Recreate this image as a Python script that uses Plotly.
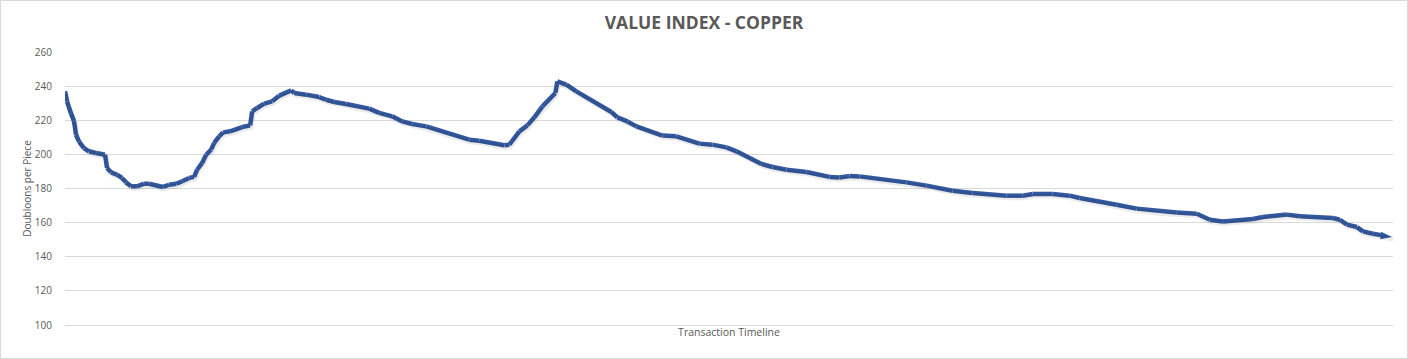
import plotly.graph_objects as go

# Transaction index (position along the timeline) and value in doubloons per piece
transaction = [0, 2, 6, 9, 11, 14, 19, 24, 31, 40, 42, 46, 52, 57, 61, 66, 72, 79, 84, 91,
               98, 104, 111, 117, 124, 129, 132, 137, 141, 146, 149, 154, 158, 165, 171, 177,
               185, 187, 192, 199, 207, 214, 226, 229, 241, 254, 261, 269, 281, 291, 304, 314,
               327, 337, 347, 361, 371, 381, 391, 404, 414, 427, 439, 444, 454, 462, 469, 477,
               484, 490, 492, 501, 511, 521, 527, 537, 546, 552, 562, 571, 581, 591, 597, 611,
               621, 634, 647, 661, 671, 684, 696, 707, 721, 741, 754, 764, 774, 784, 794, 807,
               821, 841, 861, 874, 887, 907, 924, 941, 957, 967, 987, 1004, 1014, 1027, 1041,
               1051, 1071, 1094, 1111, 1131, 1136, 1144, 1157, 1171, 1187, 1197, 1211, 1221,
               1234, 1251, 1267, 1274, 1281, 1291, 1297, 1307, 1317, 1326]
value = [237.0, 231.0, 224.0, 219.5, 211.5, 207.5, 203.7, 201.8, 200.8, 199.8, 192.0, 189.5,
         188.1, 186.2, 183.6, 181.3, 181.3, 182.8, 182.8, 181.7, 180.9, 182.2, 182.8, 184.2,
         186.2, 186.8, 191.0, 195.0, 199.8, 202.8, 206.7, 210.6, 212.9, 213.5, 214.9, 216.0,
         217.0, 225.2, 227.2, 229.7, 231.1, 234.4, 237.5, 236.0, 235.0, 233.6, 232.0, 230.7,
         229.5, 228.1, 226.8, 224.3, 222.3, 219.3, 217.8, 216.4, 214.5, 212.5, 211.1, 208.6,
         208.0, 206.7, 205.3, 205.7, 213.5, 217.0, 221.7, 228.1, 232.0, 236.0, 242.8, 240.9,
         236.9, 233.4, 232.0, 228.1, 224.8, 221.7, 219.3, 216.4, 214.5, 212.5, 211.0, 210.6,
         208.6, 206.3, 205.7, 204.1, 201.8, 198.2, 194.4, 192.6, 191.0, 189.7, 188.1, 186.8,
         186.5, 187.3, 187.1, 186.2, 185.6, 183.6, 181.7, 180.3, 178.7, 177.4, 176.4, 175.8,
         175.8, 176.8, 176.8, 175.8, 174.4, 173.0, 172.1, 170.5, 168.2, 166.6, 166.0, 165.2,
         163.7, 161.7, 160.7, 161.3, 162.1, 163.3, 164.1, 164.7, 163.7, 163.1, 162.7, 161.7,
         158.8, 157.4, 154.9, 153.5, 152.3, 151.6]
y_ticks = [100, 120, 140, 160, 180, 200, 220, 240, 260]

TITLE = "VALUE INDEX - COPPER"
Y_TITLE = "Doubloons per Piece"
X_TITLE = "Transaction Timeline"

LINE = "#3459A0"
TEXT = "#595959"
GRID = "#D9D9D9"
FONT = "Open Sans"

n = len(value)
symbols = ["circle"] * (n - 1) + ["arrow"]
sizes = [0] * (n - 1) + [12]

fig = go.Figure()

# soft shadow under the line (drawn on offset overlay axes)
fig.add_trace(go.Scatter(
    x=transaction, y=value, mode="lines", xaxis="x2", yaxis="y2",
    line=dict(color="rgba(0,0,0,0.08)", width=5), hoverinfo="skip", showlegend=False,
))

fig.add_trace(go.Scatter(
    x=transaction, y=value, mode="lines+markers",
    line=dict(color=LINE, width=4.5),
    marker=dict(symbol=symbols, size=sizes, color=LINE, opacity=1, angleref="previous",
                line=dict(width=0)),
    cliponaxis=False, showlegend=False,
))

xr = [0, 1327]
yr = [100, 260]
fig.update_layout(
    width=1408, height=359,
    margin=dict(l=65, r=15, t=52, b=34, autoexpand=False),
    paper_bgcolor="white", plot_bgcolor="white",
    font=dict(family=FONT, color=TEXT, size=10),
    title=dict(text=TITLE, x=0.5, xanchor="center", y=1 - 23 / 359, yanchor="middle",
               font=dict(family=FONT, size=17.5, color=TEXT, weight="bold")),
    xaxis=dict(range=xr, showgrid=False, zeroline=False, showticklabels=False,
               showline=True, linecolor=GRID, linewidth=1, ticks="", automargin=False,
               title=dict(text=X_TITLE, standoff=3, font=dict(size=10.5, color=TEXT))),
    yaxis=dict(range=yr, tickvals=y_ticks, showgrid=True, gridcolor=GRID, gridwidth=1,
               zeroline=False, showline=False, ticks="", ticklabelstandoff=12,
               automargin=False,
               tickfont=dict(size=10, color=TEXT),
               title=dict(text=Y_TITLE, standoff=1, font=dict(size=10, color=TEXT))),
    xaxis2=dict(range=[xr[0] - 1, xr[1] - 1], overlaying="x", visible=False),
    yaxis2=dict(range=[yr[0] + 1.2, yr[1] + 1.2], overlaying="y", visible=False),
    shapes=[dict(type="rect", xref="paper", yref="paper",
                 x0=-64.5 / 1328, x1=(1407.5 - 65) / 1328,
                 y0=-(358.5 - 325) / 273, y1=1 + (52 - 0.5) / 273,
                 line=dict(color=GRID, width=1), fillcolor="rgba(0,0,0,0)", layer="below")],
)

fig.write_html(
    "out.html",
    config={"displayModeBar": False},
    post_script="document.body.style.margin='0';document.body.style.overflow='hidden';",
)
